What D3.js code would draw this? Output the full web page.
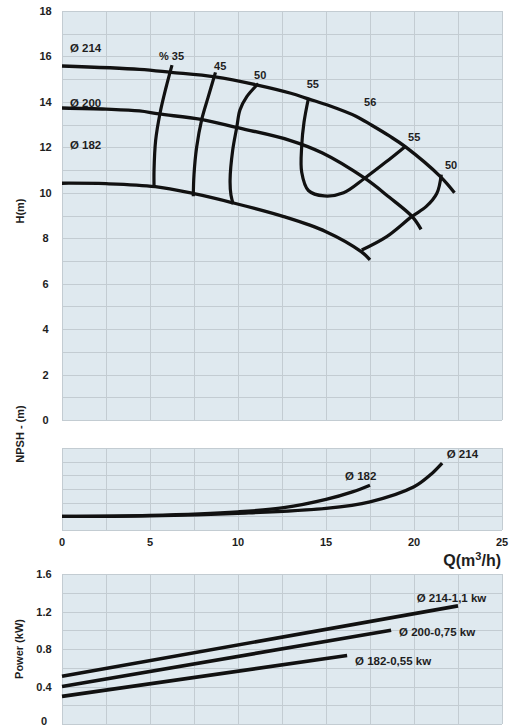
<!DOCTYPE html>
<html><head><meta charset="utf-8">
<script src="https://cdn.jsdelivr.net/npm/d3@7"></script>
<style>
html,body{margin:0;padding:0;background:#fff;}
svg{display:block;}
text{font-family:"Liberation Sans",Arial,sans-serif;font-weight:bold;fill:#1e1e1e;}
</style></head>
<body>
<script>
// ---------- data ----------
const qTicks = [0, 5, 10, 15, 20, 25];
const hTicks = [0, 2, 4, 6, 8, 10, 12, 14, 16, 18];
const pTicks = [0, 0.4, 0.8, 1.2, 1.6];

// H-Q curves [Q, H]
const head214 = [[0,15.58],[4.4,15.43],[6.2,15.30],[8.7,15.10],[11.1,14.74],[13.0,14.38],[14.0,14.13],[15.2,13.83],[16.7,13.37],[17.6,12.97],[18.6,12.5],[19.5,12.03],[21.5,10.71],[22.3,10.0]];
const head200 = [[0,13.73],[2.5,13.68],[4.4,13.6],[5.5,13.47],[7.9,13.23],[9.9,12.88],[12.9,12.32],[14.8,11.75],[17.2,10.64],[18.6,9.8],[19.9,8.95],[20.4,8.39]];
const head182 = [[0,10.42],[2.5,10.40],[5.3,10.27],[7.5,9.96],[9.7,9.56],[12.6,8.95],[15.0,8.29],[17.0,7.41],[17.5,7.05]];

// iso-efficiency curves [Q, H]
const eff35 = [[6.25,15.62],[5.9,14.6],[5.57,13.5],[5.32,12.3],[5.23,11.0],[5.23,10.25]];
const eff45 = [[8.72,15.3],[8.3,14.2],[7.94,13.23],[7.65,12.0],[7.5,10.8],[7.46,9.85]];
const eff50a = [[11.15,14.8],[10.5,14.23],[10.11,13.64],[9.93,12.88],[9.7,11.88],[9.55,10.56],[9.6,9.9],[9.73,9.5]];
const eff55 = [[14.0,14.15],[13.75,13.1],[13.62,12.06],[13.62,10.9],[14.0,10.1],[14.9,9.86],[16.0,10.0],[17.2,10.64],[18.4,11.35],[19.49,12.03]];
const eff50b = [[21.55,10.8],[21.3,9.98],[20.7,9.4],[19.87,8.95],[18.45,8.07],[17.03,7.48]];

// curve labels [text, Q, H]
const headLabels = [["Ø 214",0.45,16.37],["Ø 200",0.45,13.97],["Ø 182",0.45,12.1]];
const effLabels = [["% 35",5.51,16.03],["45",8.64,15.58],["50",10.91,15.18],["55",13.9,14.79],["56",17.16,13.98],["55",19.66,12.47],["50",21.76,11.22]];

// NPSH curves [Q, relative value]
const npsh214 = [[0,1.0],[5,1.04],[10,1.22],[15,1.58],[17.5,2.06],[20,3.16],[20.9,4.0],[21.6,4.9]];
const npsh182 = [[0,1.0],[5,1.07],[10,1.33],[12.6,1.63],[15,2.24],[16.5,2.79],[17.5,3.28]];
const npshLabels = [["Ø 182",16.08,3.94],["Ø 214",21.86,5.54]];

// Power curves [Q, kW]
const pow214 = [[0,0.51],[22.5,1.26]];
const pow200 = [[0,0.40],[18.7,1.0]];
const pow182 = [[0,0.295],[16.2,0.73]];
const powLabels = [["Ø 214-1,1 kw",20.15,1.341],["Ø 200-0,75 kw",19.15,0.985],["Ø 182-0,55 kw",16.65,0.675]];

// ---------- drawing ----------
const W = 514, H = 727;
const svg = d3.select("body").append("svg").attr("width", W).attr("height", H);

const x = d3.scaleLinear().domain([0,25]).range([62,502]);
const yH = d3.scaleLinear().domain([0,18]).range([420,11]);
const yN = d3.scaleLinear().domain([0,6]).range([530,448]);
const yP = d3.scaleLinear().domain([0,1.6]).range([724,574]);

const bg = "#dfe9ef", gridC = "#c3ccd2";

function panel(y, hStep) {
  const g = svg.append("g");
  const [d0,d1] = y.domain();
  g.append("rect").attr("x", x(0)).attr("y", y(d1)).attr("width", x(25)-x(0)).attr("height", y(d0)-y(d1)).attr("fill", bg);
  const hs = d3.range(d0, d1 + hStep/2, hStep);
  g.selectAll("line.h").data(hs).join("line")
    .attr("x1", x(0)).attr("x2", x(25)).attr("y1", d => Math.round(y(d))+0.5).attr("y2", d => Math.round(y(d))+0.5)
    .attr("stroke", gridC).attr("stroke-width", 1);
  const vs = d3.range(0, 25.01, 2.5);
  g.selectAll("line.v").data(vs).join("line")
    .attr("x1", d => Math.round(x(d))+0.5).attr("x2", d => Math.round(x(d))+0.5).attr("y1", y(d0)).attr("y2", y(d1))
    .attr("stroke", gridC).attr("stroke-width", 1);
  return g;
}

panel(yH, 1);
panel(yN, 1);
panel(yP, 0.2);

function curve(data, y, w, cv) {
  const line = d3.line().x(d => x(d[0])).y(d => y(d[1])).curve(cv || d3.curveCatmullRom.alpha(0.5));
  svg.append("path").attr("d", line(data)).attr("fill","none").attr("stroke","#111")
    .attr("stroke-width", w).attr("stroke-linecap","butt").attr("stroke-linejoin","round");
}

[head214, head200, head182].forEach(d => curve(d, yH, 3.3));
[eff35, eff45, eff50a, eff55, eff50b].forEach(d => curve(d, yH, 3.2));
[npsh214, npsh182].forEach(d => curve(d, yN, 3.3));
[pow214, pow200, pow182].forEach(d => curve(d, yP, 3.6, d3.curveLinear));

function labels(arr, y, size) {
  svg.append("g").selectAll("text").data(arr).join("text")
    .attr("x", d => x(d[1])).attr("y", d => y(d[2])).attr("dominant-baseline","central")
    .attr("font-size", size).text(d => d[0]);
}
labels(headLabels, yH, 11.5);
labels(effLabels, yH, 11);
labels(npshLabels, yN, 11.5);
labels(powLabels, yP, 11.5);

// y tick labels
svg.append("g").selectAll("text").data(hTicks).join("text")
  .attr("x", 45.5).attr("y", d => yH(d)).attr("text-anchor","middle").attr("dominant-baseline","central")
  .attr("font-size", 11).text(d => d);
svg.append("g").selectAll("text").data(pTicks).join("text")
  .attr("x", 44).attr("y", d => d === 0 ? yP(d) - 3 : yP(d)).attr("text-anchor","middle").attr("dominant-baseline","central")
  .attr("font-size", 11).text(d => d === 0 ? "0" : d.toFixed(1));
// x tick labels
svg.append("g").selectAll("text").data(qTicks).join("text")
  .attr("x", d => x(d)).attr("y", 542).attr("text-anchor","middle").attr("dominant-baseline","central")
  .attr("font-size", 11).text(d => d);

// axis titles
function vtitle(t, cx, cy) {
  svg.append("text").attr("transform", `translate(${cx},${cy}) rotate(-90)`)
    .attr("text-anchor","middle").attr("dominant-baseline","central").attr("font-size", 11).text(t);
}
vtitle("H(m)", 20, 211);
vtitle("NPSH - (m)", 20, 434);
vtitle("Power (kW)", 19, 649);

const qt = svg.append("text").attr("x", 501).attr("y", 566).attr("text-anchor","end").attr("font-size", 16);
qt.append("tspan").text("Q(m");
qt.append("tspan").attr("font-size", 11).attr("dy", -6).text("3");
qt.append("tspan").attr("dy", 6).text("/h)");
</script>
</body></html>
